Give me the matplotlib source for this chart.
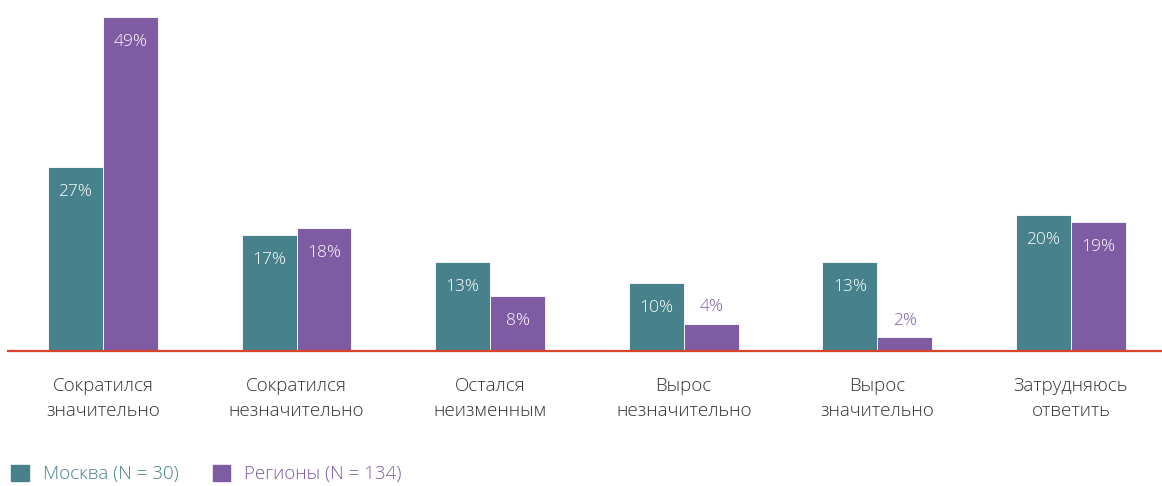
import numpy as np
import matplotlib.pyplot as plt

categories = ['Сократился\nзначительно', 'Сократился\nнезначительно', 'Остался\nнеизменным',
              'Вырос\nнезначительно', 'Вырос\nзначительно', 'Затрудняюсь\nответить']
moscow = [27, 17, 13, 10, 13, 20]
regions = [49, 18, 8, 4, 2, 19]
series_names = ['Москва (N = 30)', 'Регионы (N = 134)']

teal = '#47818b'
purple = '#7f5ba4'
red = '#d8432a'

plt.rcParams['font.family'] = ['Open Sans', 'DejaVu Sans']

fig = plt.figure(figsize=(11.62, 4.86), dpi=100)
ax = fig.add_axes([8 / 1162, 135 / 486, 1154 / 1162, 351 / 486])

x = np.arange(len(categories))
w = 0.284
b1 = ax.bar(x - w / 2, moscow, w, color=teal, edgecolor='white', linewidth=0.6)
b2 = ax.bar(x + w / 2, regions, w, color=purple, edgecolor='white', linewidth=0.6)

ax.set_xlim(-0.49, 5.47)
ax.set_ylim(0, 51.5)

for bars, vals, col in [(b1, moscow, teal), (b2, regions, purple)]:
    for bar, v in zip(bars, vals):
        cx = bar.get_x() + bar.get_width() / 2
        if v >= 6:
            ax.annotate(f'{v}%', (cx, v), xytext=(0, -18), textcoords='offset points',
                        ha='center', va='center', color='white', fontsize=12.5, fontweight='light')
        else:
            ax.annotate(f'{v}%', (cx, v), xytext=(0, 12), textcoords='offset points',
                        ha='center', va='center', color=col, fontsize=12.5, fontweight='light')

for s in ['top', 'right', 'left']:
    ax.spines[s].set_visible(False)
ax.spines['bottom'].set_color(red)
ax.spines['bottom'].set_linewidth(1.6)
ax.set_yticks([])
ax.set_xticks(x)
ax.set_xticklabels(categories, fontsize=13.5, color='#333333', linespacing=1.45, fontweight='light')
ax.tick_params(axis='x', length=0, pad=19)

handles = [plt.Rectangle((0, 0), 1, 1, color=teal), plt.Rectangle((0, 0), 1, 1, color=purple)]
leg = fig.legend(handles, series_names, loc='lower left', bbox_to_anchor=(0.0, -0.018), ncol=2,
                 frameon=False, fontsize=13.5, handlelength=0.95, handleheight=0.95,
                 handletextpad=0.75, columnspacing=1.8, borderaxespad=0.2)
for t, c in zip(leg.get_texts(), [teal, purple]):
    t.set_color(c)
    t.set_fontweight('light')

fig.savefig('out.png', dpi=100)
